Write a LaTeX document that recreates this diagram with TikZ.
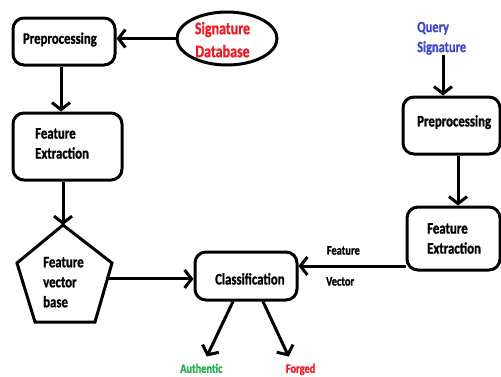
\documentclass[tikz,border=0pt]{standalone}
\usepackage{fontspec}
\setmainfont{Carlito}[FakeStretch=0.8, BoldFeatures={FakeBold=1.2}]
\usetikzlibrary{arrows.meta,shapes.geometric,calc}
\definecolor{myred}{HTML}{ED1C24}
\definecolor{myblue}{HTML}{3F48CC}
\definecolor{mygreen}{HTML}{22B14C}
\begin{document}
\begin{tikzpicture}[x=1pt,y=-1pt,
  box/.style={draw, line width=3pt, rounded corners=11pt, inner sep=0pt},
  txt/.style={inner sep=0pt, anchor=north west, align=left, font=\fontsize{16}{20}\selectfont\bfseries},
  smalltxt/.style={inner sep=0pt, anchor=north west, font=\fontsize{13}{16}\selectfont\bfseries},
  arr/.style={line width=3pt, -{Straight Barb[length=7pt,width=18pt]}},
]
\useasboundingbox (0,0) rectangle (501,376);

% left column
\node[box, minimum width=102pt, minimum height=47pt] (pre1) at (64,41.5) {};
\node[txt] (pre1t) at (22.7,32.3) {Preprocessing};

\node[draw, ellipse, line width=3pt, minimum width=100pt, minimum height=53pt, inner sep=0pt] (db) at (227,38.5) {};
\node[inner sep=0pt, anchor=north, align=center, text=myred, font=\fontsize{17.5}{23}\selectfont\bfseries] (dbt) at (222.5,21.7) {Signature\\Database};

\node[box, minimum width=109pt, minimum height=67pt] (fe1) at (67.5,146.5) {};
\node[txt] (fe1t) at (35,128) {Feature\\Extraction};

% pentagon
\coordinate (pt) at (63,225);
\coordinate (pr) at (112,263);
\coordinate (pbr) at (95,322);
\coordinate (pbl) at (35,322);
\coordinate (pl) at (17,263);
\draw[line width=3pt, line join=miter] (pt) -- (pr) -- (pbr) -- (pbl) -- (pl) -- cycle;
\coordinate (pe) at ($(pr)!0.27!(pbr)$);
\node[txt] (fvbt) at (43,256.7) {Feature\\vector\\base};

\node[box, minimum width=102pt, minimum height=48pt] (cls) at (246,276) {};
\node[txt] (clst) at (215,273) {Classification};

% right column
\node[inner sep=0pt, anchor=north west, align=left, text=myblue, font=\fontsize{15.5}{20}\selectfont\bfseries] (query) at (417,21.7) {Query\\Signature};

\node[box, minimum width=97pt, minimum height=57pt] (pre2) at (451.5,125.5) {};
\node[txt] (pre2t) at (417,115) {Preprocessing};

\node[box, minimum width=93pt, minimum height=63pt] (fe2) at (453.5,238.5) {};
\node[txt] (fe2t) at (427,223) {Feature\\Extraction};

\node[smalltxt] (fl1) at (326.7,246) {Feature};
\node[smalltxt] (fl2) at (326,277) {Vector};

\node[smalltxt, text=mygreen] (auth) at (180,363.5) {Authentic};
\node[smalltxt, text=myred] (forg) at (285.7,363.5) {Forged};

% helper coordinates
\coordinate (c1) at (61,0);
\coordinate (qx) at (443,0);
\coordinate (px) at (458,0);
\coordinate (fv) at (0,266);
\coordinate (ax) at (233,0);
\coordinate (fx) at (263,0);

% connectors
\draw[arr] (db.west) -- (db.west -| pre1.east);
\draw[arr] (pre1.south -| c1) -- (fe1.north -| c1);
\draw[arr] (fe1.south -| pt) -- (pt);
\draw[arr] (pe) -- (pe -| cls.west);
\draw[arr] (query.south -| qx) -- (pre2.north -| qx);
\draw[arr] (pre2.south -| px) -- (fe2.north -| px);
\draw[arr] (fe2.west |- fv) -- (cls.east |- fv);
\draw[arr] (cls.south -| ax) -- ([xshift=5.5pt,yshift=7pt]auth.north);
\draw[arr] (cls.south -| fx) -- ([xshift=-12pt,yshift=7pt]forg.north);
\end{tikzpicture}
\end{document}
